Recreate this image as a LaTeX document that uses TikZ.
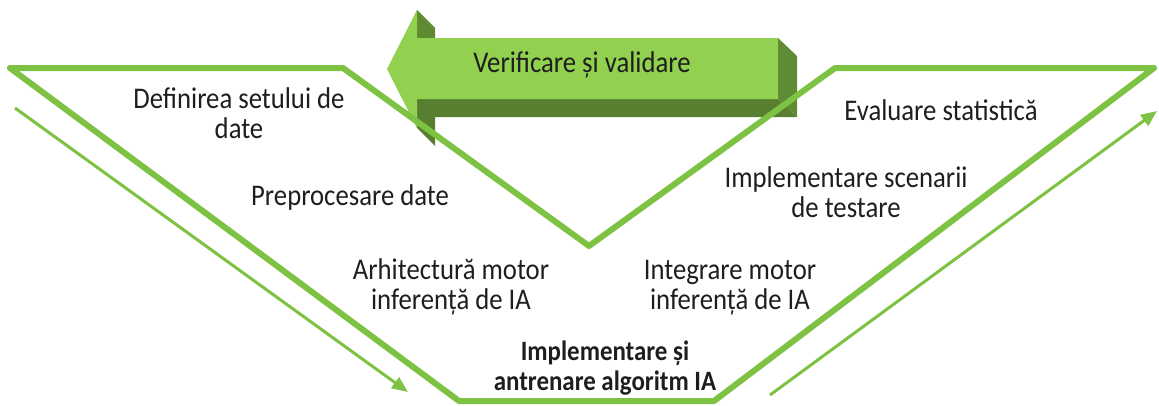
\documentclass[tikz,border=0pt]{standalone}
\usepackage{fontspec}
\setmainfont{Carlito}
\newfontfamily\labelfont[FakeStretch=0.89]{Carlito}
\usetikzlibrary{arrows.meta}
\definecolor{vline}{HTML}{7DC242}
\definecolor{arrowfront}{HTML}{92D050}
\definecolor{arrowside}{HTML}{5E8B33}
\definecolor{arrowbottom}{HTML}{587F2F}
\definecolor{labeltext}{HTML}{1E1E1E}

\begin{document}
\begin{tikzpicture}[x=1pt,y=-1pt,
  band/.style={draw=vline,line width=6pt,line join=round},
  flow/.style={draw=vline,line width=3pt,-{Triangle[length=16pt,width=13pt]}},
  lbl/.style={font=\labelfont\fontsize{30}{30}\selectfont,text=labeltext,
              align=center,anchor=base,inner sep=0pt},
  lblbold/.style={lbl,font=\labelfont\bfseries\fontsize{28}{30}\selectfont}]

\useasboundingbox (0,0) rectangle (1159,405);

% thin process arrows beside the V
\coordinate (inStart) at (15,108);
\coordinate (inEnd)   at (408,392);
\coordinate (outStart) at (770,395);
\coordinate (outEnd)   at (1157,111);
\draw[flow] (inStart) -- (inEnd);
\draw[flow] (outStart) -- (outEnd);

% 3D feedback arrow: front face, top strip, bottom and right faces
\fill[arrowside] (417,10) -- (435,28) -- (435,38) -- (417,38) -- cycle;
\fill[arrowbottom] (417,99) -- (778,99) -- (797,117) -- (435,117)
      -- (435,146) -- (417,128) -- cycle;
\fill[arrowside] (778,38) -- (797,56) -- (797,117) -- (778,99) -- cycle;
\fill[arrowfront] (387,69) -- (417,10) -- (417,38) -- (778,38)
      -- (778,99) -- (417,99) -- (417,128) -- cycle;

% V-shaped band
\coordinate (tl) at (10,68);
\coordinate (il) at (343,68);
\coordinate (vb) at (589,246);
\coordinate (ir) at (835,68);
\coordinate (tr) at (1154,68);
\coordinate (br) at (714,401);
\coordinate (bl) at (459,401);
\draw[band] (tl) -- (il) -- (vb) -- (ir) -- (tr) -- (br) -- (bl) -- cycle;

% labels (multi-line labels are placed by the baseline of their last line)
\node[lbl] (vv) at (582,72) {Verificare și validare};
\node[lbl] (def) at (239,138) {Definirea setului de\\date};
\node[lbl] (pre) at (350,205) {Preprocesare date};
\node[lbl] (arh) at (451,309) {Arhitectură motor\\inferență de IA};
\node[lblbold] (alg) at (605,390) {Implementare și\\antrenare algoritm IA};
\node[lbl] (int) at (730,309) {Integrare motor\\inferență de IA};
\node[lbl] (scn) at (846,217) {Implementare scenarii\\de testare};
\node[lbl] (eva) at (941,120) {Evaluare statistică};
\end{tikzpicture}
\end{document}
